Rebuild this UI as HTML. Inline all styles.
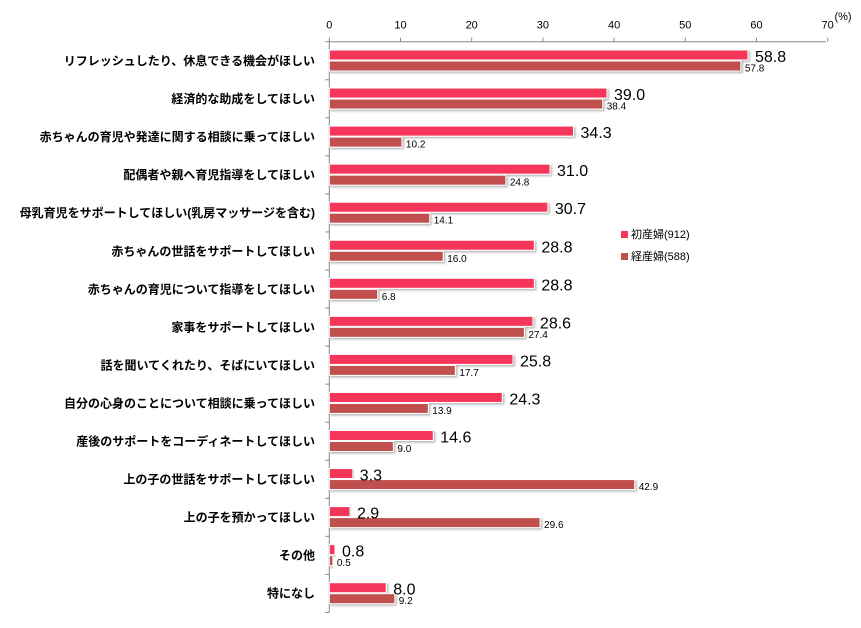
<!DOCTYPE html>
<html><head><meta charset="utf-8"><style>
body{margin:0;background:#fff;}
text{font-family:"Liberation Sans","Noto Sans CJK JP",sans-serif;}
.c{font-size:12px;font-weight:bold;fill:#000;text-anchor:end;}
.t{font-size:11px;fill:#000;text-anchor:middle;}
.b{font-size:16px;fill:#000;}
.s{font-size:10px;fill:#000;}
</style></head><body>
<svg width="861" height="623" xmlns="http://www.w3.org/2000/svg">
<defs><filter id="sh" x="-5%" y="-20%" width="110%" height="160%"><feDropShadow dx="1.5" dy="1.5" stdDeviation="1" flood-color="#000" flood-opacity="0.3"/></filter></defs>
<g id="g"></g>
<text x="843" y="20" class="t" style="font-size:11px">(%)</text>
</svg>
<script>
const d=[["リフレッシュしたり、休息できる機会がほしい",58.8,57.8],["経済的な助成をしてほしい",39.0,38.4],["赤ちゃんの育児や発達に関する相談に乗ってほしい",34.3,10.2],["配偶者や親へ育児指導をしてほしい",31.0,24.8],["母乳育児をサポートしてほしい(乳房マッサージを含む)",30.7,14.1],["赤ちゃんの世話をサポートしてほしい",28.8,16.0],["赤ちゃんの育児について指導をしてほしい",28.8,6.8],["家事をサポートしてほしい",28.6,27.4],["話を聞いてくれたり、そばにいてほしい",25.8,17.7],["自分の心身のことについて相談に乗ってほしい",24.3,13.9],["産後のサポートをコーディネートしてほしい",14.6,9.0],["上の子の世話をサポートしてほしい",3.3,42.9],["上の子を預かってほしい",2.9,29.6],["その他",0.8,0.5],["特になし",8.0,9.2]];
const x0=329.3,k=7.12,y0=41.7,bh=38.05;let s='';
s+=`<line x1="${x0}" y1="${y0}" x2="826" y2="${y0}" stroke="#888"/>`;
s+=`<line x1="${x0}" y1="${y0}" x2="${x0}" y2="${y0+15*bh}" stroke="#888"/>`;
for(let i=0;i<=7;i++){const x=x0+i*10*k;s+=`<line x1="${x}" y1="${y0-4}" x2="${x}" y2="${y0}" stroke="#888"/><text x="${x}" y="${y0-13}" class="t">${i*10}</text>`;}
for(let i=0;i<=15;i++){const y=y0+i*bh;s+=`<line x1="${x0-4}" y1="${y}" x2="${x0}" y2="${y}" stroke="#888"/>`;}
d.forEach((r,i)=>{const y=y0+i*bh+8.3;
s+=`<text x="315" y="${y+15}" class="c">${r[0]}</text>`;
s+=`<rect x="${x0}" y="${y}" width="${r[1]*k}" height="10" fill="#F5365A" stroke="#fff" stroke-width="1" filter="url(#sh)"/>`;
s+=`<rect x="${x0}" y="${y+11}" width="${r[2]*k}" height="10" fill="#C0504D" stroke="#fff" stroke-width="1" filter="url(#sh)"/>`;
s+=`<text x="${x0+r[1]*k+7}" y="${y+12}" class="b">${r[1].toFixed(1)}</text>`;
s+=`<text x="${x0+r[2]*k+4}" y="${y+21.5}" class="s">${r[2].toFixed(1)}</text>`;});
s+=`<rect x="621" y="231" width="7" height="7" fill="#F5365A"/><text x="631" y="238" style="font-size:11px">初産婦(912)</text>`;
s+=`<rect x="621" y="253" width="7" height="7" fill="#C0504D"/><text x="631" y="260" style="font-size:11px">経産婦(588)</text>`;
document.getElementById('g').innerHTML=s;
</script>
</body></html>
